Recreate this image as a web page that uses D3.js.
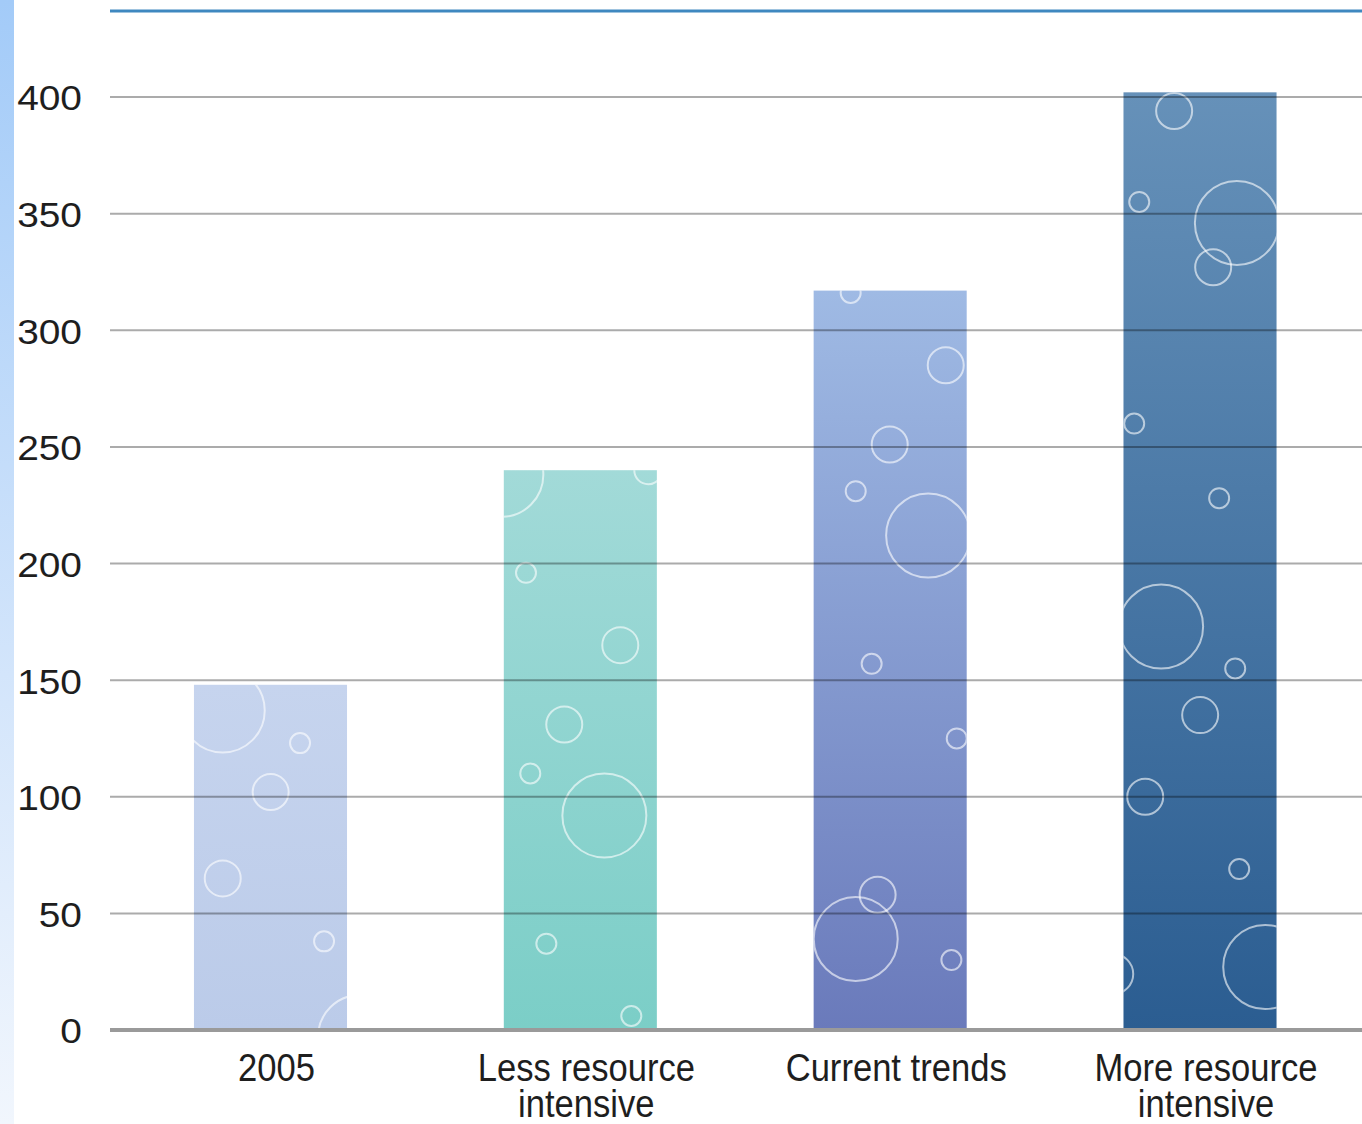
<!DOCTYPE html>
<html>
<head>
<meta charset="utf-8">
<script src="https://cdn.jsdelivr.net/npm/d3@7"></script>
<style>
body { margin: 0; background: #fff; }
svg { display: block; }
</style>
</head>
<body>
<svg width="1362" height="1124"></svg>
<script>
// data
var categories = ["2005", "Less resource intensive", "Current trends", "More resource intensive"];
var labelLines = [["2005"], ["Less resource", "intensive"], ["Current trends"], ["More resource", "intensive"]];
var values = [148, 240, 317, 402];
var yTicks = [0, 50, 100, 150, 200, 250, 300, 350, 400];

// bar colours, top -> bottom
var topColors = ["#c6d4ee", "#a2dad8", "#9fbae4", "#6691b9"];
var bottomColors = ["#bbcbe9", "#7bcec7", "#6a7abb", "#2b5d91"];

// decorative bubbles: bar index, x as fraction of bar width, y in value units, radius
var bubbles = [
  [0, 0.188, 137, 42], [0, 0.693, 123, 10], [0, 0.501, 102, 18], [0, 0.188, 65, 18], [0, 0.850, 38, 10], [0, 1.085, -3, 42],
  [1, -0.016, 238, 42], [1, 0.944, 240, 14], [1, 0.145, 196, 10], [1, 0.761, 165, 18], [1, 0.395, 131, 18],
  [1, 0.173, 110, 10], [1, 0.657, 92, 42], [1, 0.278, 37, 10], [1, 0.833, 6, 10],
  [2, 0.242, 316, 10], [2, 0.863, 285, 18], [2, 0.497, 251, 18], [2, 0.275, 231, 10], [2, 0.748, 212, 42],
  [2, 0.379, 157, 10], [2, 0.935, 125, 10], [2, 0.418, 58, 18], [2, 0.275, 39, 42], [2, 0.900, 30, 10],
  [3, 0.331, 394, 18], [3, 0.103, 355, 10], [3, 0.741, 346, 42], [3, 0.586, 327, 18], [3, 0.070, 260, 10],
  [3, 0.625, 228, 10], [3, 0.246, 173, 42], [3, 0.730, 155, 10], [3, 0.501, 135, 18], [3, 0.142, 100, 18],
  [3, 0.756, 69, 10], [3, 0.926, 27, 42], [3, -0.067, 24, 20]
];

var svg = d3.select("svg");
var defs = svg.append("defs");

var x = d3.scaleBand().domain(categories).range([116.5, 1354]).paddingInner(0.506).paddingOuter(0.25);
var y = d3.scaleLinear().domain([0, 400]).range([1030, 97]);

// left blue strip
var stripGrad = defs.append("linearGradient").attr("id", "strip").attr("x1", 0).attr("y1", 0).attr("x2", 0).attr("y2", 1);
stripGrad.append("stop").attr("offset", 0).attr("stop-color", "#a3cbf8");
stripGrad.append("stop").attr("offset", 0.6).attr("stop-color", "#d3e5fb");
stripGrad.append("stop").attr("offset", 1).attr("stop-color", "#f1f6fd");
svg.append("rect").attr("x", 0).attr("y", 0).attr("width", 14).attr("height", 1124).attr("fill", "url(#strip)");

// top rule
svg.append("line").attr("x1", 110).attr("x2", 1362).attr("y1", 11).attr("y2", 11)
  .attr("stroke", "#3f88c0").attr("stroke-width", 3);

// gradients + clips for the bars
categories.forEach(function(c, i) {
  var g = defs.append("linearGradient").attr("id", "bar" + i).attr("x1", 0).attr("y1", 0).attr("x2", 0).attr("y2", 1);
  g.append("stop").attr("offset", 0).attr("stop-color", topColors[i]);
  g.append("stop").attr("offset", 1).attr("stop-color", bottomColors[i]);
  defs.append("clipPath").attr("id", "clip" + i).append("rect")
    .attr("x", x(c)).attr("y", y(values[i])).attr("width", x.bandwidth()).attr("height", y(0) - y(values[i]));
});

// bars
svg.append("g").selectAll("rect").data(values).join("rect")
  .attr("x", function(d, i) { return x(categories[i]); })
  .attr("y", function(d) { return y(d); })
  .attr("width", x.bandwidth())
  .attr("height", function(d) { return y(0) - y(d); })
  .attr("fill", function(d, i) { return "url(#bar" + i + ")"; });

// bubbles
svg.append("g").selectAll("circle").data(bubbles).join("circle")
  .attr("clip-path", function(d) { return "url(#clip" + d[0] + ")"; })
  .attr("cx", function(d) { return x(categories[d[0]]) + d[1] * x.bandwidth(); })
  .attr("cy", function(d) { return y(d[2]); })
  .attr("r", function(d) { return d[3]; })
  .attr("fill", "none")
  .attr("stroke", "#fff")
  .attr("stroke-opacity", 0.6)
  .attr("stroke-width", 2);

// gridlines on top of the bars
svg.append("g").selectAll("line").data(yTicks.filter(function(t) { return t > 0; })).join("line")
  .attr("x1", 110).attr("x2", 1362)
  .attr("y1", function(d) { return y(d); })
  .attr("y2", function(d) { return y(d); })
  .attr("stroke", "#000").attr("stroke-opacity", 0.33).attr("stroke-width", 2);

// baseline
svg.append("line").attr("x1", 110).attr("x2", 1362).attr("y1", y(0)).attr("y2", y(0))
  .attr("stroke", "#9a9a9a").attr("stroke-width", 4);

// y axis labels
var yAxis = svg.append("g").attr("transform", "translate(82,0)")
  .call(d3.axisLeft(y).tickValues(yTicks).tickSize(0).tickPadding(0));
yAxis.select(".domain").remove();
yAxis.selectAll("text")
  .attr("font-family", "'Liberation Sans', Arial, sans-serif")
  .attr("font-size", 36)
  .attr("fill", "#1e1e1e")
  .attr("dy", "0.36em")
  .attr("transform", "scale(1.08,1)");

// x axis labels
var xAxis = svg.append("g").attr("transform", "translate(6," + y(0) + ")")
  .call(d3.axisBottom(x).tickSize(0).tickFormat(""));
xAxis.select(".domain").remove();
xAxis.selectAll(".tick").each(function(d, i) {
  var t = d3.select(this).append("text")
    .attr("font-family", "'Liberation Sans', Arial, sans-serif")
    .attr("font-size", 38)
    .attr("fill", "#1e1e1e")
    .attr("text-anchor", "middle")
    .attr("transform", "scale(0.91,1)");
  t.selectAll("tspan").data(labelLines[i]).join("tspan")
    .attr("x", 0)
    .attr("y", function(l, j) { return 51 + j * 36; })
    .text(function(l) { return l; });
});
</script>
</body>
</html>
